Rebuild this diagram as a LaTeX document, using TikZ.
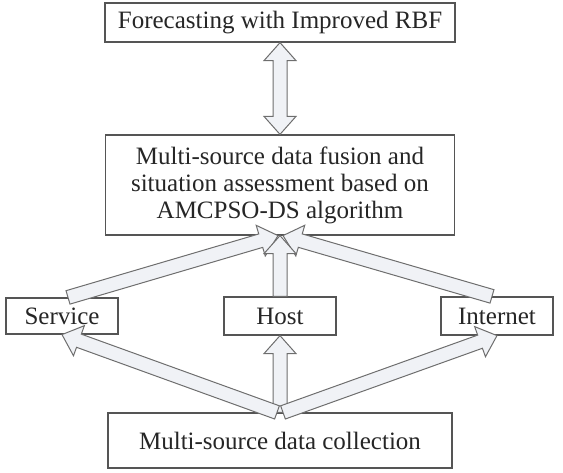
\documentclass[tikz,border=0pt]{standalone}
\usepackage{fontspec}
\setmainfont{Liberation Serif}
\usetikzlibrary{positioning, calc}

\definecolor{boxline}{HTML}{555555}
\definecolor{arrline}{HTML}{6E6E6E}
\definecolor{arrfill}{HTML}{F0F2F6}

\tikzset{
  box/.style={draw=boxline, line width=1.2pt, fill=white, inner sep=0pt,
    text=black!85, align=center, font=\fontsize{25}{27}\selectfont},
  blockarrow/.style={draw=arrline, line width=1pt, fill=arrfill, line join=miter},
}

% half widths and head length of the hollow arrows
\newcommand\shafthw{7pt}
\newcommand\headhw{16pt}
\newcommand\headlen{18pt}

% hollow arrow from #1 to #2
\newcommand\blockarrow[2]{%
  \draw[blockarrow]
    ($(#1)!\shafthw!90:(#2)$)
    -- ($(#2)!\headlen!(#1)!\shafthw!-90:(#1)$)
    -- ($(#2)!\headlen!(#1)!\headhw!-90:(#1)$)
    -- (#2)
    -- ($(#2)!\headlen!(#1)!\headhw!90:(#1)$)
    -- ($(#2)!\headlen!(#1)!\shafthw!90:(#1)$)
    -- ($(#1)!\shafthw!-90:(#2)$) -- cycle;}

% hollow arrow with a head at both ends
\newcommand\dblockarrow[2]{%
  \draw[blockarrow]
    (#1)
    -- ($(#1)!\headlen!(#2)!\headhw!90:(#2)$)
    -- ($(#1)!\headlen!(#2)!\shafthw!90:(#2)$)
    -- ($(#2)!\headlen!(#1)!\shafthw!-90:(#1)$)
    -- ($(#2)!\headlen!(#1)!\headhw!-90:(#1)$)
    -- (#2)
    -- ($(#2)!\headlen!(#1)!\headhw!90:(#1)$)
    -- ($(#2)!\headlen!(#1)!\shafthw!90:(#1)$)
    -- ($(#1)!\headlen!(#2)!\shafthw!-90:(#2)$)
    -- ($(#1)!\headlen!(#2)!\headhw!-90:(#2)$) -- cycle;}

\begin{document}
\begin{tikzpicture}[x=1pt, y=-1pt, on grid]
   \useasboundingbox (0,0) rectangle (563,473);

   % forecasting and fusion
   \node[box, minimum width=350pt, minimum height=39pt] (forecast) at (280,22.5) {Forecasting with Improved RBF};
   \node[box, minimum width=349pt, minimum height=100pt] (fusion) [below=162.5pt of forecast]
     {Multi-source data fusion and\\situation assessment based on\\AMCPSO-DS algorithm};

   % data sources
   \node[box, minimum width=112pt, minimum height=38pt] (host) [below=131pt of fusion] {Host};
   \node[box, minimum width=112pt, minimum height=36pt] (service) [left=218pt of host] {Service};
   \node[box, minimum width=112pt, minimum height=38pt] (internet) [right=217pt of host] {Internet};

   % collection
   \node[box, minimum width=344pt, minimum height=55pt] (collect) [below=124.5pt of host] {Multi-source data collection};

   % arrow ends
   \coordinate (s_top) at ([xshift=6pt]service.north);
   \coordinate (i_top) at ([xshift=-5pt]internet.north);
   \coordinate (f_l) at ([xshift=-2pt]fusion.south);
   \coordinate (f_r) at ([xshift=3pt]fusion.south);
   \coordinate (c_l) at ([xshift=-3pt]collect.north);
   \coordinate (c_r) at ([xshift=3pt]collect.north);

   % sources up to fusion
   \blockarrow{s_top}{f_l}
   \blockarrow{i_top}{f_r}
   \blockarrow{host.north}{fusion.south}

   % collection up to sources
   \blockarrow{collect.north}{host.south}
   \blockarrow{c_l}{service.south}
   \blockarrow{c_r}{internet.south}

   % fusion and forecasting
   \dblockarrow{forecast.south}{fusion.north}
\end{tikzpicture}
\end{document}
